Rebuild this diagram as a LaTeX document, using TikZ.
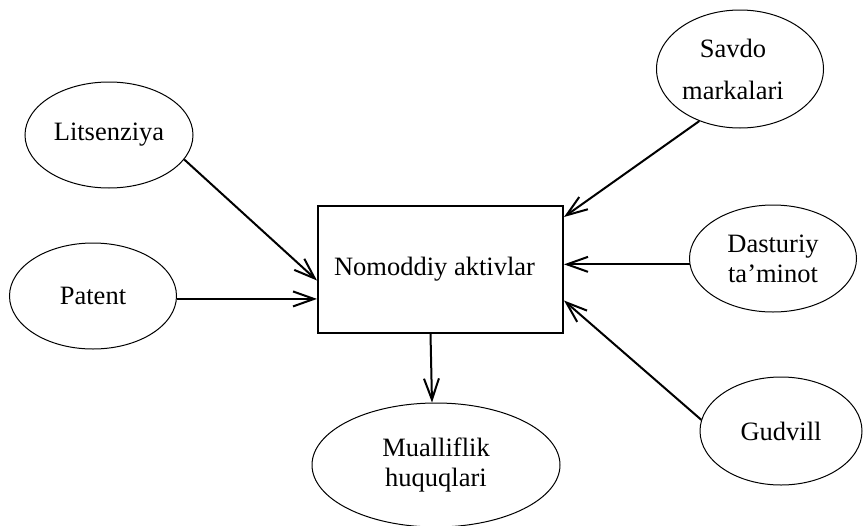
\documentclass[tikz,border=0pt]{standalone}
\usepackage{fontspec}
\setmainfont{Liberation Serif}
\usetikzlibrary{shapes.geometric,arrows.meta}
\begin{document}
\begin{tikzpicture}[x=1pt,y=-1pt,
  txt/.style={font=\fontsize{26.5}{30}\selectfont},
  asset/.style={ellipse,draw,line width=1pt,inner sep=0pt,align=center,txt},
  core/.style={rectangle,draw,line width=2pt,inner sep=0pt,
    minimum width=245pt,minimum height=127pt,txt},
  link/.style={line width=2pt,-{Straight Barb[length=21pt,width=15pt]}}]
\useasboundingbox (0,0) rectangle (864,525);

% central block
\node[core] (box) at (440.5,269.5) {\hspace*{-12pt}\raisebox{5pt}{Nomoddiy aktivlar}};

% surrounding assets
\node[asset,minimum width=168pt,minimum height=106pt] (lit) at (109,135) {Litsenziya};
\node[asset,minimum width=167pt,minimum height=106pt] (pat) at (93,296) {Patent};
\node[asset,minimum width=167pt,minimum height=118pt] (sav) at (740,69) {\hspace*{-14pt}Savdo\\[12pt]\hspace*{-14pt}markalari};
\node[asset,minimum width=167pt,minimum height=107pt] (das) at (773,258.5) {Dasturiy\\ta’minot};
\node[asset,minimum width=162pt,minimum height=108pt] (gud) at (781,431) {Gudvill};
\node[asset,minimum width=248pt,minimum height=124pt] (mua) at (436,465) {Mualliflik\\huquqlari};

% connectors
\draw[link] (lit.-18) -- ([yshift=-11pt]box.west);
\draw[link] (pat.-2) -- (pat.-2 -| box.west);
\draw[link] (sav.-128) -- ([yshift=-12pt]box.north east);
\draw[link] (das.-176) -- (das.-176 -| box.east);
\draw[link] (gud.172) -- ([yshift=-31pt]box.east);
\draw[link] ([xshift=-10pt]box.south) -- ([xshift=-4pt]mua.north);
\end{tikzpicture}
\end{document}
